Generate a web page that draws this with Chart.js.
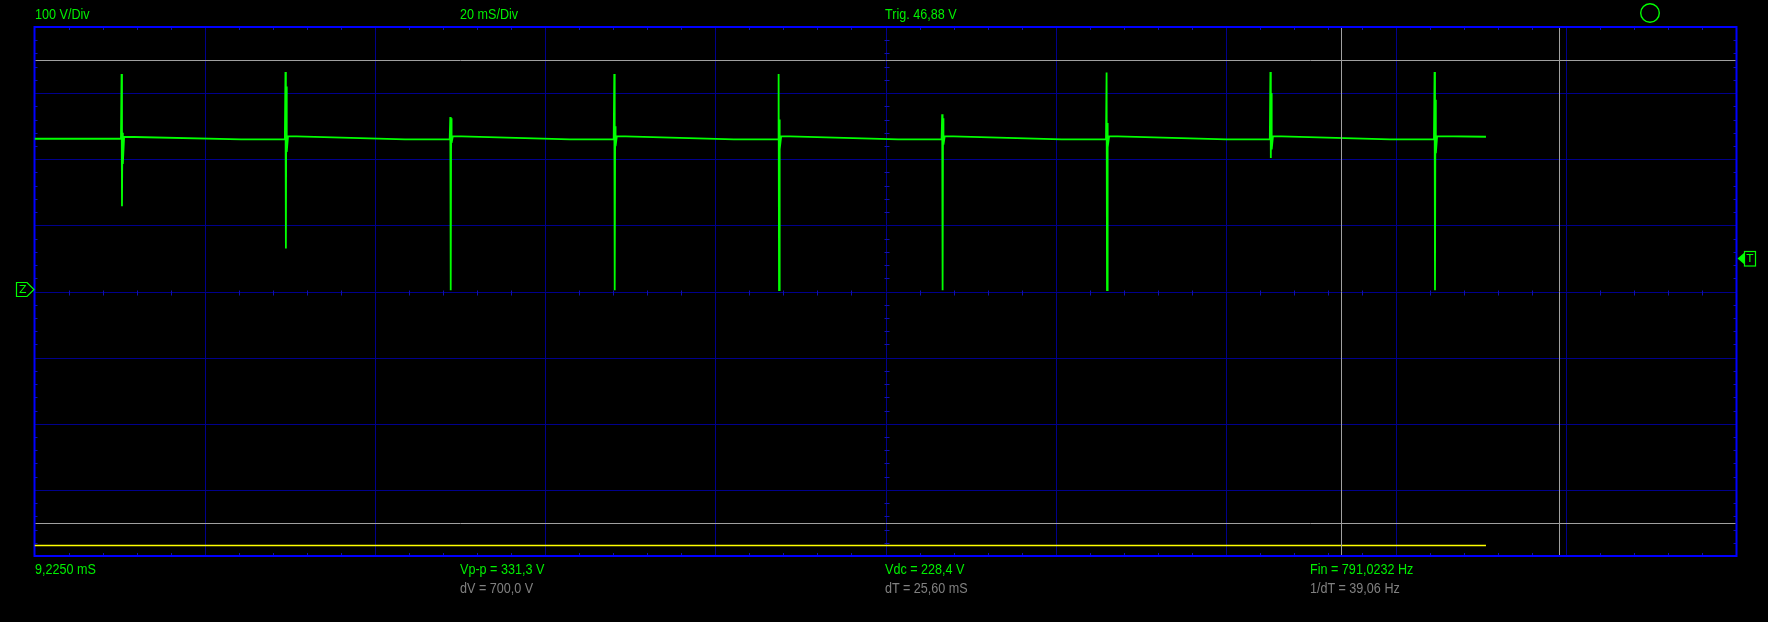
<!DOCTYPE html>
<html>
<head>
<meta charset="utf-8">
<script src="https://cdn.jsdelivr.net/npm/chart.js@4.4.1/dist/chart.umd.min.js"></script>
<style>
  html, body { margin: 0; padding: 0; background: #000; }
  #wrap { position: relative; width: 1768px; height: 622px; background: #000; overflow: hidden; }
  canvas { position: absolute; left: 0; top: 0; }
  .lbl { position: absolute; font-family: "Liberation Sans", sans-serif; font-size: 15px; line-height: 15px; white-space: nowrap; transform: scaleX(0.84); transform-origin: 0 0; }
  .g { color: #00f000; }
  .s { color: #808080; }
  .mk { position: absolute; font-family: "DejaVu Sans", sans-serif; font-size: 11px; line-height: 11px; color: #00ff00; }
</style>
</head>
<body>
<div id="wrap">
  <canvas id="c" width="1768" height="622"></canvas>
  <div class="lbl g" style="left:35px; top:6px;">100 V/Div</div>
  <div class="lbl g" style="left:460px; top:6px;">20 mS/Div</div>
  <div class="lbl g" style="left:885px; top:6px;">Trig. 46,88 V</div>
  <div class="lbl g" style="left:35px; top:561px;">9,2250 mS</div>
  <div class="lbl g" style="left:460px; top:561px;">Vp-p = 331,3 V</div>
  <div class="lbl s" style="left:460px; top:580px;">dV = 700,0 V</div>
  <div class="lbl g" style="left:885px; top:561px;">Vdc = 228,4 V</div>
  <div class="lbl s" style="left:885px; top:580px;">dT = 25,60 mS</div>
  <div class="lbl g" style="left:1310px; top:561px;">Fin = 791,0232 Hz</div>
  <div class="lbl s" style="left:1310px; top:580px;">1/dT = 39,06 Hz</div>
  <div class="mk" id="zmark">Z</div>
  <div class="mk" id="tmark">T</div>
</div>
<script>
// ---- data ----
const divTime = 20;            // mS / div
const divVolt = 100;           // V / div
const timeRange = [0, 200];    // 10 divisions
const voltRange = [-400, 400]; // 8 divisions

const pulseTime = [10.28, 29.54, 48.91, 68.18, 87.49, 106.71, 126.03, 145.28, 164.57];
const pulseHigh = [329, 332, 264, 329, 329, 268, 331, 332, 332];
const pulseLow  = [129, 65, 2, 2, 2, 2, 2, 202, 2];
const ringHigh  = [240, 310, 262, 250, 260, 262, 255, 300, 290];
const ringLow   = [193, 211, 225, 220, 215, 222, 218, 215, 209];
const baseBefore = [231, 230, 230, 230, 230, 230, 230, 230, 230];
const baseAfter  = [234, 235, 235, 235, 235, 235, 235, 235, 235];
const traceStart = [0, 231];
const traceEnd   = [170.56, 234];

const refT = [0, 170.56];      // channel 2 (yellow) trace
const refV = [-384, -384];

const cursorV = [350, -350];   // dV = 700,0 V
const cursorT = [153.5, 179.1];// dT = 25,60 mS
const trigLevel = 46.88;
const zeroLevel = 0;

// ---- build the green trace from the arrays ----
const trace = [{ x: traceStart[0], y: traceStart[1] }];
pulseTime.forEach((t, i) => {
  trace.push({ x: t - 0.12, y: baseBefore[i] });
  trace.push({ x: t - 0.05, y: pulseHigh[i] });
  trace.push({ x: t,        y: pulseLow[i] });
  trace.push({ x: t + 0.05, y: ringHigh[i] });
  trace.push({ x: t + 0.10, y: ringLow[i] });
  trace.push({ x: t + 0.25, y: baseAfter[i] });
  if (i < pulseTime.length - 1) trace.push({ x: t + 14, y: baseBefore[i + 1] });
});
trace.push({ x: traceEnd[0], y: traceEnd[1] });

const ref = refT.map((t, i) => ({ x: t, y: refV[i] }));

const scopePlugin = {
  id: 'scope',
  beforeDatasetsDraw(chart) {
    const { ctx, chartArea: a, scales: { x, y } } = chart;
    ctx.save();
    ctx.strokeStyle = '#00008c';
    ctx.lineWidth = 1;
    ctx.beginPath();
    for (let t = timeRange[0] + divTime; t < timeRange[1]; t += divTime) {
      const px = Math.round(x.getPixelForValue(t)) + 0.5;
      ctx.moveTo(px, a.top); ctx.lineTo(px, a.bottom);
    }
    for (let v = voltRange[0] + divVolt; v < voltRange[1]; v += divVolt) {
      const py = Math.round(y.getPixelForValue(v)) + 0.5;
      ctx.moveTo(a.left, py); ctx.lineTo(a.right, py);
    }
    ctx.stroke();
    ctx.strokeStyle = '#1010b0';
    ctx.beginPath();
    const midY = Math.round(y.getPixelForValue(0)) + 0.5;
    const midX = Math.round(x.getPixelForValue(100)) + 0.5;
    for (let t = timeRange[0]; t <= timeRange[1]; t += divTime / 5) {
      if (t % divTime === 0) continue;
      const px = Math.round(x.getPixelForValue(t)) + 0.5;
      ctx.moveTo(px, a.top); ctx.lineTo(px, a.top + 3);
      ctx.moveTo(px, a.bottom); ctx.lineTo(px, a.bottom - 3);
      ctx.moveTo(px, midY - 2); ctx.lineTo(px, midY + 3);
    }
    for (let v = voltRange[0]; v <= voltRange[1]; v += divVolt / 5) {
      if (v % divVolt === 0) continue;
      const py = Math.round(y.getPixelForValue(v)) + 0.5;
      ctx.moveTo(a.left, py); ctx.lineTo(a.left + 3, py);
      ctx.moveTo(a.right, py); ctx.lineTo(a.right - 3, py);
      ctx.moveTo(midX - 2, py); ctx.lineTo(midX + 3, py);
    }
    ctx.stroke();
    ctx.strokeStyle = '#0000ff';
    ctx.lineWidth = 2;
    ctx.strokeRect(a.left, a.top, a.right - a.left, a.bottom - a.top);
    ctx.restore();
  },
  afterDatasetsDraw(chart) {
    const { ctx, chartArea: a, scales: { x, y } } = chart;
    ctx.save();
    ctx.strokeStyle = '#a0a0a0';
    ctx.lineWidth = 1;
    ctx.beginPath();
    cursorV.forEach(v => {
      const py = Math.round(y.getPixelForValue(v)) + 0.5;
      ctx.moveTo(a.left + 1, py); ctx.lineTo(a.right - 1, py);
    });
    cursorT.forEach(t => {
      const px = Math.round(x.getPixelForValue(t)) + 0.5;
      ctx.moveTo(px, a.top + 1); ctx.lineTo(px, a.bottom - 1);
    });
    ctx.stroke();
    ctx.strokeStyle = '#00ff00';
    ctx.fillStyle = '#00ff00';
    ctx.lineWidth = 1.2;
    const zy = y.getPixelForValue(zeroLevel) - 2;
    ctx.beginPath();
    ctx.moveTo(16.5, zy - 7); ctx.lineTo(27, zy - 7); ctx.lineTo(a.left - 0.5, zy);
    ctx.lineTo(27, zy + 7); ctx.lineTo(16.5, zy + 7); ctx.closePath();
    ctx.stroke();
    const ty = y.getPixelForValue(trigLevel) - 2;
    ctx.beginPath();
    ctx.moveTo(a.right + 1, ty); ctx.lineTo(a.right + 8, ty - 6); ctx.lineTo(a.right + 8, ty + 6); ctx.closePath();
    ctx.fill();
    ctx.strokeRect(a.right + 8, ty - 7, 11, 14.5);
    ctx.lineWidth = 1.4;
    ctx.beginPath();
    ctx.arc(1650, 13, 9.3, 0, Math.PI * 2);
    ctx.stroke();
    ctx.restore();
    const zm = document.getElementById('zmark');
    zm.style.left = '19px'; zm.style.top = (zy - 5.5) + 'px';
    const tm = document.getElementById('tmark');
    tm.style.left = (a.right + 10) + 'px'; tm.style.top = (ty - 5.5) + 'px';
  }
};

new Chart(document.getElementById('c'), {
  type: 'scatter',
  data: {
    datasets: [
      { data: ref, showLine: true, borderColor: '#ffff00', borderWidth: 1.5, pointRadius: 0 },
      { data: trace, showLine: true, borderColor: '#00ff00', borderWidth: 1.8, pointRadius: 0 }
    ]
  },
  options: {
    responsive: false,
    devicePixelRatio: 1,
    animation: false,
    layout: { padding: { left: 34.5, right: 31.5, top: 27, bottom: 66 } },
    plugins: { legend: { display: false }, tooltip: { enabled: false } },
    elements: { line: { tension: 0 } },
    scales: {
      x: { type: 'linear', min: timeRange[0], max: timeRange[1], display: false },
      y: { type: 'linear', min: voltRange[0], max: voltRange[1], display: false }
    }
  },
  plugins: [scopePlugin]
});
</script>
</body>
</html>
